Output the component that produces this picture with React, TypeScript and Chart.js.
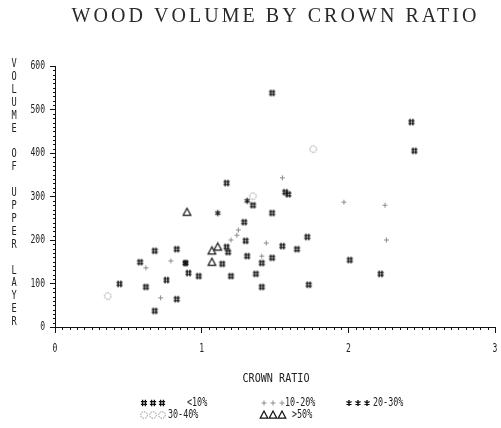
import React, { useEffect, useRef } from 'react';
import { Chart, registerables } from 'chart.js';

Chart.register(...registerables);

const TITLE = 'WOOD VOLUME BY CROWN RATIO';
const X_TITLE = 'CROWN RATIO';
const Y_TITLE = 'VOLUME OF UPPER LAYER';

const xTickValues = [0, 1, 2, 3];
const yTickValues = [0, 100, 200, 300, 400, 500, 600];

const seriesLabels = ['<10%', '10-20%', '20-30%', '30-40%', '>50%'];

const lt10X = [1.48, 2.43, 2.45, 1.57, 1.59, 1.17, 1.35, 1.48, 1.29, 1.30, 1.17, 1.18, 0.83, 0.68, 1.72, 1.55, 1.65, 2.01, 2.22, 1.31, 1.41, 1.48, 0.89, 1.14, 0.91, 0.98, 1.20, 1.37, 0.76, 1.41, 1.73, 0.83, 0.58, 0.44, 0.62, 0.68];
const lt10Y = [538, 471, 405, 310, 305, 331, 280, 262, 241, 198, 184, 172, 179, 175, 207, 186, 179, 154, 122, 163, 147, 159, 147, 145, 124, 117, 117, 122, 108, 92, 97, 64, 149, 99, 92, 37];

const p10X = [1.55, 1.97, 2.25, 2.26, 1.44, 1.25, 1.24, 1.20, 0.79, 1.41, 0.62, 0.72];
const p10Y = [343, 287, 280, 200, 193, 223, 211, 200, 152, 163, 136, 67];

const p20X = [1.31, 1.11, 0.89];
const p20Y = [290, 262, 147];

const p30X = [1.76, 1.35, 0.36];
const p30Y = [409, 301, 71];

const gt50X = [0.90, 1.11, 1.07, 1.07];
const gt50Y = [264, 184, 175, 149];

type Kind = 'hash' | 'plus' | 'star' | 'circle' | 'tri';
const kinds: Kind[] = ['hash', 'plus', 'star', 'circle', 'tri'];

function drawSym(g: CanvasRenderingContext2D, kind: Kind, x: number, y: number) {
  g.save();
  g.setLineDash([]);
  switch (kind) {
    case 'hash': {
      g.strokeStyle = '#111';
      g.lineWidth = 1.3;
      g.beginPath();
      g.moveTo(x - 1.4, y - 3.2); g.lineTo(x - 1.4, y + 3.2);
      g.moveTo(x + 1.4, y - 3.2); g.lineTo(x + 1.4, y + 3.2);
      g.moveTo(x - 3.1, y - 1.4); g.lineTo(x + 3.1, y - 1.4);
      g.moveTo(x - 3.1, y + 1.4); g.lineTo(x + 3.1, y + 1.4);
      g.stroke();
      break;
    }
    case 'plus': {
      g.strokeStyle = '#8c8c8c';
      g.lineWidth = 1;
      g.beginPath();
      g.moveTo(x - 2.5, y); g.lineTo(x + 2.5, y);
      g.moveTo(x, y - 2.5); g.lineTo(x, y + 2.5);
      g.stroke();
      break;
    }
    case 'star': {
      g.strokeStyle = '#111';
      g.lineWidth = 1.4;
      g.beginPath();
      g.moveTo(x, y - 3); g.lineTo(x, y + 3);
      g.moveTo(x - 2.6, y - 1.5); g.lineTo(x + 2.6, y + 1.5);
      g.moveTo(x - 2.6, y + 1.5); g.lineTo(x + 2.6, y - 1.5);
      g.stroke();
      break;
    }
    case 'circle': {
      g.strokeStyle = '#888';
      g.lineWidth = 1;
      g.setLineDash([1.5, 1]);
      g.beginPath();
      g.arc(x, y, 3.3, 0, Math.PI * 2);
      g.stroke();
      break;
    }
    case 'tri': {
      g.strokeStyle = '#111';
      g.lineWidth = 1.2;
      g.beginPath();
      g.moveTo(x, y - 4);
      g.lineTo(x + 3.8, y + 3.2);
      g.lineTo(x - 3.8, y + 3.2);
      g.closePath();
      g.stroke();
      break;
    }
  }
  g.restore();
}

function makeSym(kind: Kind): HTMLCanvasElement {
  const c = document.createElement('canvas');
  c.width = 11;
  c.height = 11;
  const g = c.getContext('2d')!;
  drawSym(g, kind, 5.5, 5.5);
  return c;
}

function condensedText(
  ctx: CanvasRenderingContext2D,
  text: string,
  x: number,
  y: number,
  size: number,
  sx: number,
  align: CanvasTextAlign,
  color = '#222'
) {
  ctx.save();
  ctx.font = `${size}px "DejaVu Sans Mono"`;
  ctx.fillStyle = color;
  ctx.textBaseline = 'middle';
  ctx.textAlign = align;
  ctx.translate(x, y);
  ctx.scale(sx, 1);
  ctx.fillText(text, 0, 0);
  ctx.restore();
}

const decorPlugin = {
  id: 'decor',
  afterDraw(chart: any) {
    const ctx: CanvasRenderingContext2D = chart.ctx;
    const xs = chart.scales.x;
    const ys = chart.scales.y;
    const area = chart.chartArea;

    // minor ticks
    ctx.save();
    ctx.strokeStyle = '#111';
    ctx.lineWidth = 1;
    ctx.beginPath();
    for (let v = 0; v <= 600; v += 10) {
      if (v % 100 === 0) continue;
      const py = Math.round(ys.getPixelForValue(v)) + 0.5;
      ctx.moveTo(area.left - 2, py);
      ctx.lineTo(area.left + 1, py);
    }
    for (let i = 0; i <= 60; i++) {
      if (i % 20 === 0) continue;
      const px = Math.round(xs.getPixelForValue(i * 0.05)) + 0.5;
      ctx.moveTo(px, area.bottom);
      ctx.lineTo(px, area.bottom + 3);
    }
    ctx.stroke();
    ctx.restore();

    // tick labels
    yTickValues.forEach((v) => {
      condensedText(ctx, String(v), area.left - 10, ys.getPixelForValue(v), 13, 0.62, 'right');
    });
    xTickValues.forEach((v) => {
      condensedText(ctx, String(v), xs.getPixelForValue(v), area.bottom + 22, 13, 0.62, 'center');
    });

    // x title
    condensedText(ctx, X_TITLE, (area.left + area.right) / 2 + 1, 379, 13, 0.78, 'center');

    // y title: stacked letters
    const letters = Y_TITLE.split('');
    letters.forEach((ch, i) => {
      if (ch === ' ') return;
      condensedText(ctx, ch, 14, 64 + i * 12.9, 12, 0.72, 'center');
    });

    // main title
    ctx.save();
    ctx.font = '20px "Liberation Serif"';
    ctx.fillStyle = '#2a2a2a';
    ctx.textBaseline = 'middle';
    ctx.textAlign = 'left';
    const targetW = 405;
    const w0 = ctx.measureText(TITLE).width;
    const sp = (targetW - w0) / (TITLE.length - 1);
    (ctx as any).letterSpacing = `${sp}px`;
    ctx.fillText(TITLE, 274 - targetW / 2, 17);
    ctx.restore();

    // legend
    const rows = [
      { y: 403, items: [0, 1, 2] },
      { y: 415, items: [3, 4] },
    ];
    const symX = [144, 264, 349];
    const labX = [[187, 285, 373], [168, 292]];
    rows.forEach((row, r) => {
      row.items.forEach((si, c) => {
        for (let k = 0; k < 3; k++) {
          drawSym(ctx, kinds[si], symX[c] + k * 9, row.y);
        }
        condensedText(ctx, seriesLabels[si], labX[r][c], row.y, 12, 0.7, 'left');
      });
    });
  },
};

function pts(xs: number[], ys: number[]) {
  return xs.map((x, i) => ({ x, y: ys[i] }));
}

export default function App() {
  const ref = useRef<HTMLCanvasElement | null>(null);
  useEffect(() => {
    if (!ref.current) return;
    const syms = kinds.map(makeSym);
    const sets = [
      pts(lt10X, lt10Y),
      pts(p10X, p10Y),
      pts(p20X, p20Y),
      pts(p30X, p30Y),
      pts(gt50X, gt50Y),
    ];
    const chart = new Chart(ref.current, {
      type: 'scatter',
      data: {
        datasets: sets.map((d, i) => ({
          label: seriesLabels[i],
          data: d,
          pointStyle: syms[i] as any,
          pointRadius: 4,
          pointHoverRadius: 4,
        })),
      },
      options: {
        animation: false,
        responsive: false,
        maintainAspectRatio: false,
        events: [],
        layout: { padding: { left: 0, right: 6, top: 66, bottom: 0 } },
        plugins: {
          legend: { display: false },
          title: { display: false },
          tooltip: { enabled: false },
        },
        scales: {
          x: {
            type: 'linear',
            min: 0,
            max: 3,
            ticks: { stepSize: 1, display: false },
            grid: { drawOnChartArea: false, tickLength: 6, color: '#111', lineWidth: 1 },
            border: { color: '#111', width: 1 },
            afterFit: (s: any) => { s.height = 101; },
          },
          y: {
            type: 'linear',
            min: 0,
            max: 600,
            ticks: { stepSize: 100, display: false },
            grid: { drawOnChartArea: false, tickLength: 5, color: '#111', lineWidth: 1 },
            border: { color: '#111', width: 1 },
            afterFit: (s: any) => { s.width = 55; },
          },
        },
      },
      plugins: [decorPlugin],
    });
    return () => chart.destroy();
  }, []);
  return (
    <div style={{ position: 'fixed', left: 0, top: 0, width: 501, height: 428, background: '#fff' }}>
      <canvas ref={ref} width={501} height={428} style={{ width: 501, height: 428, display: 'block' }} />
    </div>
  );
}
